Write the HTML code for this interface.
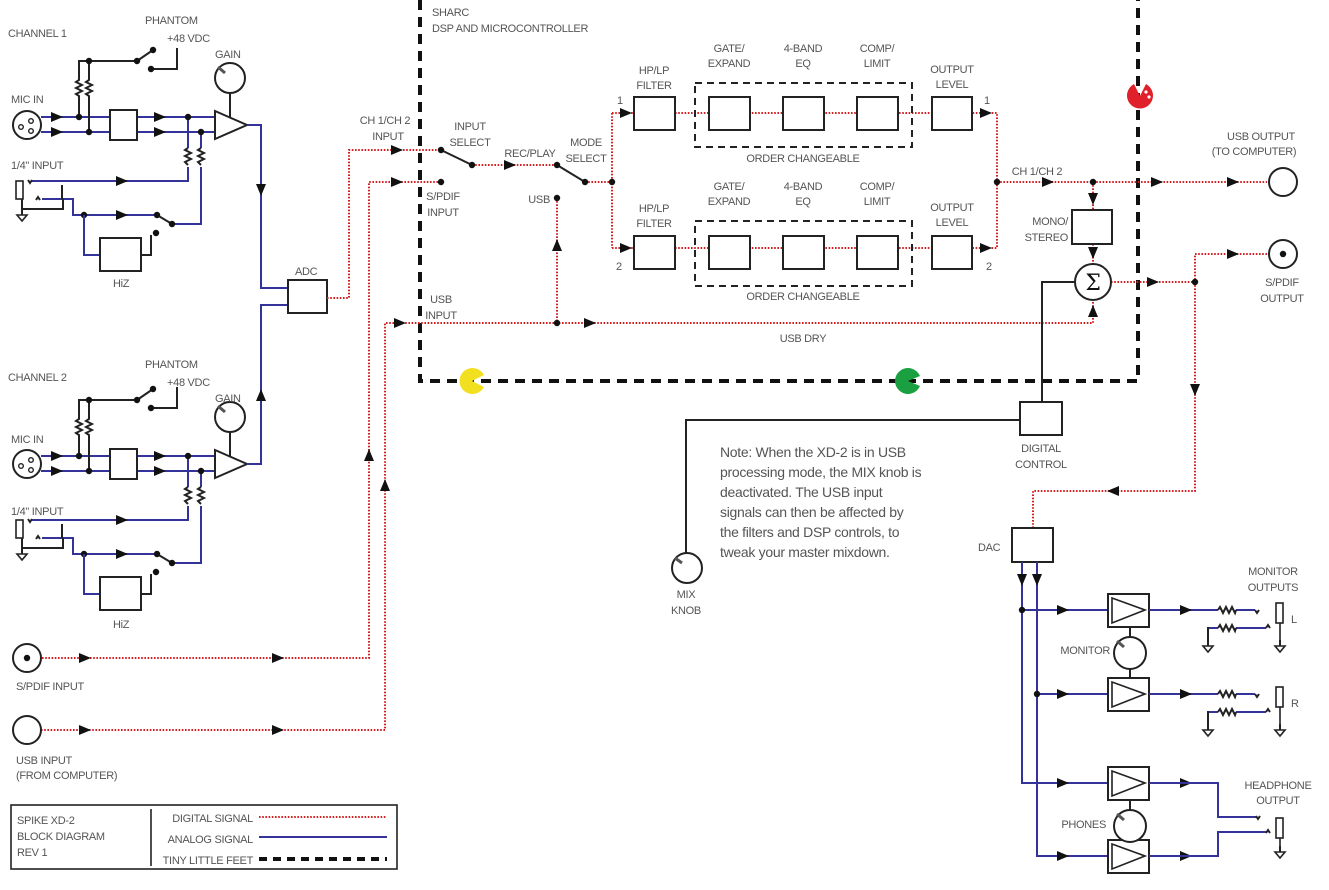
<!DOCTYPE html>
<html><head><meta charset="utf-8"><style>
html,body{margin:0;padding:0;background:#fff}
svg{display:block}
text{font-family:"Liberation Sans",sans-serif;font-size:11px;fill:#555;letter-spacing:-0.3px}
.m{text-anchor:middle}.e{text-anchor:end}
.b{stroke:#33339a;stroke-width:2;fill:none}
.r{stroke:#d42020;stroke-width:2;fill:none;stroke-dasharray:1.6 1.6}
.k{stroke:#222;stroke-width:2;fill:none}
.bx{stroke:#222;stroke-width:2;fill:#fff}
</style></head><body>
<svg width="1329" height="890" viewBox="0 0 1329 890" xmlns="http://www.w3.org/2000/svg">
<defs>
<polygon id="ar" points="-6,-5 6,0 -6,5" fill="#111"/>
<circle id="dt" r="3.2" fill="#111"/>
<g id="gnd"><path d="M0,0 V6" stroke="#222" stroke-width="2"/><polygon points="-5,6 5,6 0,12" fill="#fff" stroke="#222" stroke-width="1.6"/></g>
<g id="ch">
 <circle cx="27" cy="125" r="14" class="bx"/>
 <circle cx="21" cy="127" r="2.3" fill="none" stroke="#222" stroke-width="1.4"/>
 <circle cx="31" cy="121" r="2.3" fill="none" stroke="#222" stroke-width="1.4"/>
 <circle cx="31" cy="131" r="2.3" fill="none" stroke="#222" stroke-width="1.4"/>
 <path class="b" d="M41,117 H215 M41,132 H215"/>
 <path class="k" d="M79,117 V96 l-3,-2 6,-3 -6,-3 6,-3 -6,-3 3,-2 V61 H137 M89,132 V96 l-3,-2 6,-3 -6,-3 6,-3 -6,-3 3,-2 V61"/>
 <path class="k" d="M137,61 L153,50 M151,69 H177 V48"/>
 <use href="#dt" x="79" y="117"/><use href="#dt" x="89" y="132"/><use href="#dt" x="89" y="61"/>
 <use href="#dt" x="137" y="61"/><use href="#dt" x="153" y="50"/><use href="#dt" x="151" y="69"/>
 <rect x="110" y="110" width="27" height="30" class="bx"/>
 <use href="#ar" x="57" y="117"/><use href="#ar" x="57" y="132"/><use href="#ar" x="160" y="117"/><use href="#ar" x="160" y="132"/>
 <path class="b" d="M188,117 V148 M188,167 V181 H32 M201,132 V148 M201,167 V224 H172"/>
 <path class="k" d="M188,148 l-3,2 6,3 -6,3 6,3 -6,3 3,3 M201,148 l-3,2 6,3 -6,3 6,3 -6,3 3,3"/>
 <use href="#dt" x="188" y="117"/><use href="#dt" x="201" y="132"/>
 <rect x="16" y="181" width="7" height="18" fill="#fff" stroke="#222" stroke-width="1.6"/>
 <path class="k" d="M28,180 l2,3 2,-3 M36,200 l2,-3 2,3" stroke-width="1.4"/>
 <path class="b" d="M42,199 H73 V215 H157"/>
 <path class="k" d="M62,185 V199 M22,199 V209 H63 V199" stroke-width="1.6"/>
 <use href="#gnd" x="22" y="209"/>
 <use href="#ar" x="122" y="181"/><use href="#ar" x="122" y="215"/>
 <path class="k" d="M157,215 L172,224"/><use href="#dt" x="157" y="215"/><use href="#dt" x="172" y="224"/>
 <use href="#dt" x="84" y="215"/>
 <path class="b" d="M84,215 V255 H100"/>
 <rect x="100" y="238" width="41" height="33" class="bx"/>
 <path class="k" d="M141,255 H151 V235"/><use href="#dt" x="156" y="233"/>
 <path class="k" d="M230,93 V118"/>
 <polygon points="215,111 215,139 247,125" class="bx"/>
 <circle cx="230" cy="78" r="15" class="bx"/>
 <path d="M225,73 L218,67" stroke="#555" stroke-width="3"/>
</g>
<g id="amp"><rect x="0" y="0" width="41" height="33" class="bx"/><polygon points="4,4 4,29 37,16" fill="none" stroke="#222" stroke-width="1.6"/></g>
<g id="out">
 <path class="b" d="M0,0 H69 M87,0 H106 M59,18 H69 M87,18 H117"/>
 <path class="k" d="M69,0 l2,-3 3,6 3,-6 3,6 3,-6 3,6 1,-3 M69,18 l2,-3 3,6 3,-6 3,6 3,-6 3,6 1,-3" stroke-width="1.4"/>
 <path class="k" d="M106,0 l2,3 2,-3 M117,18 l2,-3 2,3" stroke-width="1.4"/>
 <path class="k" d="M59,17 V30" stroke-width="1.6"/><use href="#gnd" x="59" y="30"/>
 <rect x="127" y="-7" width="7" height="20" fill="#fff" stroke="#222" stroke-width="1.6"/>
 <path d="M131,13 V30" stroke="#222" stroke-width="1.6"/><use href="#gnd" x="131" y="30"/>
</g>
</defs>

<path d="M420,0 V381 H1138 V0" fill="none" stroke="#111" stroke-width="4" stroke-dasharray="10 7"/>

<use href="#ch"/>
<use href="#ch" transform="translate(0,339)"/>
<path class="b" d="M247,125 H261 V288 H288 M247,464 H261 V305 H288"/>
<use href="#ar" transform="translate(261,190) rotate(90)"/>
<use href="#ar" transform="translate(261,395) rotate(-90)"/>
<rect x="288" y="280" width="39" height="33" class="bx"/>

<path class="r" d="M327,298 H349 V150 H441"/>
<path class="r" d="M42,658 H369 V182 H441"/>
<path class="r" d="M41,730 H385 V323 H1093 V300"/>
<path class="r" d="M472,165 H557 M585,182 H612 M612,113 V248 M612,113 H634 M612,248 H634 M557,198 V323"/>
<path class="r" d="M675,113 H997 V248 H972 M675,248 H932 M997,182 H1267 M1093,182 V210 M1093,244 V264"/>
<path class="r" d="M1111,282 H1195 V254 H1268 M1195,282 V491 H1033 V528"/>
<use href="#ar" x="85" y="658"/><use href="#ar" x="278" y="658"/><use href="#ar" x="85" y="730"/><use href="#ar" x="278" y="730"/>
<use href="#ar" transform="translate(369,455) rotate(-90)"/><use href="#ar" transform="translate(385,485) rotate(-90)"/>
<use href="#ar" x="397" y="150"/><use href="#ar" x="397" y="182"/><use href="#ar" x="400" y="323"/><use href="#ar" x="590" y="323"/>
<use href="#ar" x="510" y="165"/><use href="#ar" transform="translate(557,245) rotate(-90)"/>
<use href="#ar" x="626" y="113"/><use href="#ar" x="626" y="248"/><use href="#ar" x="986" y="113"/><use href="#ar" x="986" y="248"/>
<use href="#ar" x="1048" y="182"/><use href="#ar" x="1157" y="182"/><use href="#ar" x="1233" y="182"/>
<use href="#ar" transform="translate(1093,199) rotate(90)"/><use href="#ar" transform="translate(1093,253) rotate(90)"/>
<use href="#ar" transform="translate(1093,311) rotate(-90)"/>
<use href="#ar" x="1153" y="282"/><use href="#ar" x="1233" y="254"/>
<use href="#ar" transform="translate(1195,390) rotate(90)"/><use href="#ar" transform="translate(1113,491) rotate(180)"/>
<path class="k" d="M441,150 L472,165 M557,165 L585,182"/>
<use href="#dt" x="441" y="150"/><use href="#dt" x="441" y="182"/><use href="#dt" x="472" y="165"/><use href="#dt" x="557" y="165"/>
<use href="#dt" x="585" y="182"/><use href="#dt" x="612" y="182"/><use href="#dt" x="557" y="198"/><use href="#dt" x="557" y="323"/>
<use href="#dt" x="997" y="182"/><use href="#dt" x="1093" y="182"/><use href="#dt" x="1195" y="282"/>

<rect x="695" y="83" width="217" height="64" fill="none" stroke="#222" stroke-width="2" stroke-dasharray="7 5"/>
<rect x="695" y="221" width="217" height="65" fill="none" stroke="#222" stroke-width="2" stroke-dasharray="7 5"/>
<g class="bx">
<rect x="634" y="97" width="41" height="33"/><rect x="709" y="97" width="41" height="33"/><rect x="783" y="97" width="41" height="33"/><rect x="857" y="97" width="41" height="33"/><rect x="932" y="97" width="40" height="33"/>
<rect x="634" y="236" width="41" height="33"/><rect x="709" y="236" width="41" height="33"/><rect x="783" y="236" width="41" height="33"/><rect x="857" y="236" width="41" height="33"/><rect x="932" y="236" width="40" height="33"/>
<rect x="1072" y="210" width="40" height="34"/>
<rect x="1020" y="402" width="42" height="33"/>
<rect x="1012" y="528" width="41" height="34"/>
</g>
<circle cx="1093" cy="282" r="18" class="bx"/>
<text x="1093" y="290" class="m" style="font-size:22px;fill:#111;font-family:'DejaVu Serif',serif">Σ</text>
<circle cx="1283" cy="182" r="14" class="bx"/>
<circle cx="1283" cy="254" r="14" class="bx"/><circle cx="1283" cy="254" r="3.2" fill="#111"/>
<circle cx="27" cy="658" r="14" class="bx"/><circle cx="27" cy="658" r="3.2" fill="#111"/>
<circle cx="27" cy="730" r="14" class="bx"/>

<path class="k" d="M1075,282 H1042 V402 M1020,420 H686 V553"/>
<circle cx="687" cy="568" r="15" class="bx"/>
<path d="M682,563 L675,558" stroke="#555" stroke-width="3"/>

<path class="b" d="M1022,562 V783 H1108 M1037,562 V856 H1108 M1022,610 H1108 M1037,694 H1108"/>
<use href="#dt" x="1022" y="610"/><use href="#dt" x="1037" y="694"/>
<use href="#ar" transform="translate(1022,580) rotate(90)"/><use href="#ar" transform="translate(1037,580) rotate(90)"/>
<use href="#ar" x="1063" y="610"/><use href="#ar" x="1063" y="694"/><use href="#ar" x="1063" y="783"/><use href="#ar" x="1063" y="856"/>
<path class="k" d="M1130,627 V637 M1130,669 V678 M1130,800 V810 M1130,842 V840"/>
<use href="#amp" x="1108" y="594"/><use href="#amp" x="1108" y="678"/><use href="#amp" x="1108" y="767"/><use href="#amp" x="1108" y="840"/>
<circle cx="1130" cy="653" r="16" class="bx"/><path d="M1124,647 L1117,641" stroke="#555" stroke-width="3"/>
<circle cx="1130" cy="826" r="16" class="bx"/><path d="M1124,820 L1117,814" stroke="#555" stroke-width="3"/>
<use href="#out" x="1149" y="610"/><use href="#out" x="1149" y="694"/>
<use href="#ar" x="1186" y="610"/><use href="#ar" x="1186" y="694"/><use href="#ar" x="1186" y="783"/><use href="#ar" x="1186" y="856"/>
<path class="b" d="M1149,783 H1218 V817 H1256 M1149,856 H1218 V832 H1266"/>
<path class="k" d="M1256,816 l2,3 2,-3 M1266,833 l2,-3 2,3" stroke-width="1.4"/>
<rect x="1276" y="818" width="7" height="20" fill="#fff" stroke="#222" stroke-width="1.6"/>
<path d="M1280,838 V846" stroke="#222" stroke-width="1.6"/><use href="#gnd" x="1280" y="846"/>

<path d="M472,381 L484,375 A13,13 0 1,0 484,387 Z" fill="#f2e020"/>
<path d="M908,381 L920,376 A13,13 0 1,0 920,386 Z" fill="#1aa040"/>
<path d="M1140,96 L1134,84 A13,13 0 1,0 1146,84 Z" fill="#e0202a"/>
<circle cx="1146" cy="92" r="1.6" fill="#fff"/><circle cx="1149" cy="97" r="1.6" fill="#fff"/>

<rect x="11" y="805" width="386" height="64" fill="none" stroke="#222" stroke-width="1.6"/>
<path d="M151,809 V866" stroke="#222" stroke-width="1.6"/>
<path class="r" d="M259,817 H387"/>
<path class="b" d="M259,837 H387" stroke-width="1.6"/>
<path d="M259,859 H387" stroke="#111" stroke-width="4" stroke-dasharray="8 6"/>

<text x="8" y="37">CHANNEL 1</text><text x="145" y="24">PHANTOM</text><text x="167" y="42">+48 VDC</text><text x="215" y="58">GAIN</text>
<text x="11" y="103">MIC IN</text><text x="11" y="169">1/4" INPUT</text><text x="113" y="287">HiZ</text><text x="295" y="275">ADC</text>
<text x="8" y="381">CHANNEL 2</text><text x="145" y="368">PHANTOM</text><text x="167" y="386">+48 VDC</text><text x="215" y="402">GAIN</text>
<text x="11" y="443">MIC IN</text><text x="11" y="515">1/4" INPUT</text><text x="113" y="628">HiZ</text>
<text x="16" y="690">S/PDIF INPUT</text><text x="16" y="764">USB INPUT</text><text x="16" y="779">(FROM COMPUTER)</text>
<text x="385" y="124" class="m">CH 1/CH 2</text><text x="388" y="140" class="m">INPUT</text>
<text x="432" y="16">SHARC</text><text x="432" y="32">DSP AND MICROCONTROLLER</text>
<text x="470" y="130" class="m">INPUT</text><text x="470" y="146" class="m">SELECT</text>
<text x="530" y="157" class="m">REC/PLAY</text><text x="586" y="146" class="m">MODE</text><text x="586" y="162" class="m">SELECT</text>
<text x="443" y="200" class="m">S/PDIF</text><text x="443" y="216" class="m">INPUT</text><text x="550" y="203" class="e">USB</text>
<text x="441" y="303" class="m">USB</text><text x="441" y="319" class="m">INPUT</text><text x="803" y="342" class="m">USB DRY</text>
<text x="654" y="74" class="m">HP/LP</text><text x="654" y="89" class="m">FILTER</text>
<text x="729" y="52" class="m">GATE/</text><text x="729" y="67" class="m">EXPAND</text>
<text x="803" y="52" class="m">4-BAND</text><text x="803" y="67" class="m">EQ</text>
<text x="877" y="52" class="m">COMP/</text><text x="877" y="67" class="m">LIMIT</text>
<text x="952" y="73" class="m">OUTPUT</text><text x="952" y="88" class="m">LEVEL</text>
<text x="654" y="212" class="m">HP/LP</text><text x="654" y="227" class="m">FILTER</text>
<text x="729" y="190" class="m">GATE/</text><text x="729" y="205" class="m">EXPAND</text>
<text x="803" y="190" class="m">4-BAND</text><text x="803" y="205" class="m">EQ</text>
<text x="877" y="190" class="m">COMP/</text><text x="877" y="205" class="m">LIMIT</text>
<text x="952" y="211" class="m">OUTPUT</text><text x="952" y="226" class="m">LEVEL</text>
<text x="617" y="104">1</text><text x="616" y="270">2</text><text x="984" y="104">1</text><text x="986" y="270">2</text>
<text x="803" y="162" class="m">ORDER CHANGEABLE</text><text x="803" y="300" class="m">ORDER CHANGEABLE</text>
<text x="1037" y="175" class="m">CH 1/CH 2</text>
<text x="1261" y="140" class="m">USB OUTPUT</text><text x="1254" y="155" class="m">(TO COMPUTER)</text>
<text x="1068" y="225" class="e">MONO/</text><text x="1068" y="241" class="e">STEREO</text>
<text x="1282" y="286" class="m">S/PDIF</text><text x="1282" y="302" class="m">OUTPUT</text>
<text x="1041" y="452" class="m">DIGITAL</text><text x="1041" y="468" class="m">CONTROL</text>
<text x="686" y="598" class="m">MIX</text><text x="686" y="614" class="m">KNOB</text>
<text x="978" y="551">DAC</text>
<text x="1273" y="575" class="m">MONITOR</text><text x="1273" y="591" class="m">OUTPUTS</text>
<text x="1291" y="623">L</text><text x="1291" y="707">R</text>
<text x="1110" y="654" class="e">MONITOR</text><text x="1106" y="828" class="e">PHONES</text>
<text x="1278" y="789" class="m">HEADPHONE</text><text x="1278" y="804" class="m">OUTPUT</text>
<text x="720" y="457" style="font-size:14px">Note: When the XD-2 is in USB</text>
<text x="720" y="477" style="font-size:14px">processing mode, the MIX knob is</text>
<text x="720" y="497" style="font-size:14px">deactivated. The USB input</text>
<text x="720" y="517" style="font-size:14px">signals can then be affected by</text>
<text x="720" y="537" style="font-size:14px">the filters and DSP controls, to</text>
<text x="720" y="557" style="font-size:14px">tweak your master mixdown.</text>
<text x="17" y="824">SPIKE XD-2</text><text x="17" y="840">BLOCK DIAGRAM</text><text x="17" y="856">REV 1</text>
<text x="253" y="822" class="e">DIGITAL SIGNAL</text><text x="253" y="843" class="e">ANALOG SIGNAL</text><text x="253" y="864" class="e">TINY LITTLE FEET</text>
</svg>
</body></html>
